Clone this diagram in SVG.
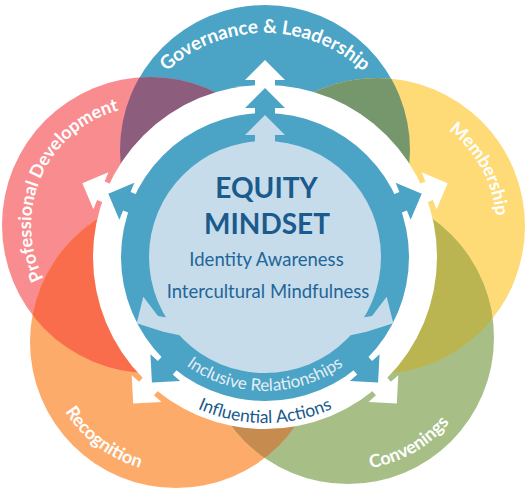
<svg xmlns="http://www.w3.org/2000/svg" xmlns:xlink="http://www.w3.org/1999/xlink" width="526" height="490" viewBox="0 0 526 490">
<defs>
<style>
.lbl{font-family:Lato,"Open Sans","Liberation Sans",sans-serif;font-weight:700;fill:#ffffff;}
.ctr{font-family:Lato,"Open Sans","Liberation Sans",sans-serif;text-anchor:middle;}
.ring{font-family:Lato,"Open Sans","Liberation Sans",sans-serif;}
.wh{fill:#ffffff;}
.bl{fill:#4ba3c5;}
.lt{fill:#c6dcea;}
</style>
<clipPath id="cpBlue"><circle cx="265" cy="150" r="145"/></clipPath>
<clipPath id="cpPink"><circle cx="150" cy="225" r="148"/></clipPath>
<clipPath id="cpYellow"><circle cx="377" cy="226" r="148"/></clipPath>
<clipPath id="cpOrange"><circle cx="176" cy="342" r="146"/></clipPath>
<clipPath id="cpGreen"><circle cx="348" cy="338" r="146"/></clipPath>
<polygon id="ah" points="0,0 20,20 10,20 10,44 -10,44 -10,20 -20,20"/>
<path id="pGov" d="M122.2,152.8 A145,145 0 0 1 407.8,152.8"/>
<path id="pPD" d="M83.5,323.7 A119,119 0 0 1 178.8,109.6"/>
<path id="pMem" d="M338.2,113.4 A119,119 0 0 1 451.9,318.5"/>
<path id="pRec" d="M59.3,282.5 A131,131 0 0 0 265.3,437.8"/>
<path id="pCon" d="M246.9,422.9 A132,132 0 0 0 472.1,292.9"/>
<path id="pInc" d="M131,257 A134,134 0 0 0 399,257"/>
<path id="pInf" d="M99,257 A166,166 0 0 0 431,257"/>
</defs>
<rect x="0" y="0" width="526" height="490" fill="#ffffff"/>
<g id="node-governance">
<circle cx="265" cy="150" r="145" fill="#4ba3c5"/>
<text class="lbl" font-size="19" text-anchor="middle"><textPath href="#pGov" startOffset="50%">Governance &amp; Leadership</textPath></text>
</g>
<g id="node-professional-development">
<circle cx="150" cy="225" r="148" fill="#f98c8e"/>
<text class="lbl" font-size="18" text-anchor="middle"><textPath href="#pPD" startOffset="50%">Professional Development</textPath></text>
</g>
<g id="node-membership">
<circle cx="377" cy="226" r="148" fill="#fedb77"/>
<text class="lbl" font-size="18" text-anchor="middle"><textPath href="#pMem" startOffset="50%">Membership</textPath></text>
</g>
<g id="node-recognition">
<circle cx="176" cy="342" r="146" fill="#fdab6b"/>
<text class="lbl" font-size="18" text-anchor="middle"><textPath href="#pRec" startOffset="50%">Recognition</textPath></text>
</g>
<g id="node-convenings">
<circle cx="348" cy="338" r="146" fill="#a7bf87"/>
<text class="lbl" font-size="18" text-anchor="middle"><textPath href="#pCon" startOffset="50%">Convenings</textPath></text>
</g>
<g id="overlaps">
<circle cx="265" cy="150" r="145" fill="#8c5d7c" clip-path="url(#cpPink)"/>
<circle cx="265" cy="150" r="145" fill="#75976b" clip-path="url(#cpYellow)"/>
<circle cx="176" cy="342" r="146" fill="#f96d4c" clip-path="url(#cpPink)"/>
<circle cx="348" cy="338" r="146" fill="#bbb551" clip-path="url(#cpYellow)"/>
<circle cx="348" cy="338" r="146" fill="#c68b4f" clip-path="url(#cpOrange)"/>
</g>
<g id="node-equity-mindset">
<circle class="wh" cx="265" cy="257" r="172"/>
<circle class="bl" cx="265" cy="257" r="144"/>
<circle class="lt" cx="265" cy="257" r="116"/>
<text class="ctr" x="266.5" y="198" font-size="28" font-weight="700" fill="#1a5a8c">EQUITY</text>
<text class="ctr" x="267" y="234" font-size="28" font-weight="700" fill="#1a5a8c">MINDSET</text>
<text class="ctr" x="266.5" y="266" font-size="18.5" fill="#1f6598">Identity Awareness</text>
<text class="ctr" x="268" y="298" font-size="18.5" fill="#1f6598">Intercultural Mindfulness</text>
<text class="ring" font-size="17" fill="#e4eef5" text-anchor="middle"><textPath href="#pInc" startOffset="50%">Inclusive Relationships</textPath></text>
<text class="ring" font-size="17.5" fill="#1a5a8c" text-anchor="middle"><textPath href="#pInf" startOffset="50%">Influential Actions</textPath></text>
</g>
<g id="connectors">
<use href="#ah" class="wh" transform="translate(265,257) rotate(0) translate(0,-197)"/>
<use href="#ah" class="wh" transform="translate(265,257) rotate(-68) translate(0,-197)"/>
<use href="#ah" class="wh" transform="translate(265,257) rotate(68) translate(0,-197)"/>
<use href="#ah" class="wh" transform="translate(265,257) rotate(-138) translate(0,-197)"/>
<use href="#ah" class="wh" transform="translate(265,257) rotate(138) translate(0,-197)"/>
<use href="#ah" class="bl" transform="translate(265,257) rotate(0) translate(0,-169)"/>
<use href="#ah" class="bl" transform="translate(265,257) rotate(-68) translate(0,-169)"/>
<use href="#ah" class="bl" transform="translate(265,257) rotate(68) translate(0,-169)"/>
<use href="#ah" class="bl" transform="translate(265,257) rotate(-138) translate(0,-169)"/>
<use href="#ah" class="bl" transform="translate(265,257) rotate(138) translate(0,-169)"/>
<use href="#ah" class="lt" transform="translate(265,257) rotate(0) translate(0,-142)"/>
<polygon class="lt" points="143.3,296.7 158,316 170,318 183,336 163.3,331.7 136.7,323.3"/>
<polygon class="lt" points="386.7,296.7 372,316 360,318 347,336 366.7,331.7 393.3,323.3"/>
</g>
</svg>
